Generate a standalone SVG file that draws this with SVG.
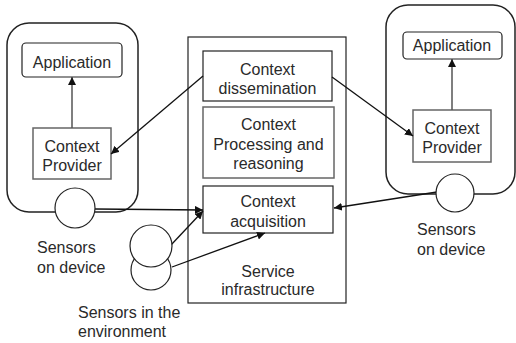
<svg xmlns="http://www.w3.org/2000/svg" width="516" height="343" viewBox="0 0 516 343">
<style>
text{font-family:"Liberation Sans",Arial,sans-serif;font-size:16px;fill:#2a2a2a}
.c{text-anchor:middle}
.dev{fill:none;stroke:#222;stroke-width:1.5}
.box{fill:#fff;stroke:#222;stroke-width:1.2}
.gbox{fill:#fff;stroke:#666;stroke-width:1.5}
.sen{fill:#fff;stroke:#222;stroke-width:1.2}
.ln{stroke:#111;stroke-width:1.3;fill:none;marker-end:url(#ah)}
.gl{stroke:#555;stroke-width:1.5;fill:none;marker-end:url(#ah)}
</style>
<defs>
<marker id="ah" viewBox="0 0 10 10" refX="10" refY="5" markerWidth="8" markerHeight="8" markerUnits="userSpaceOnUse" orient="auto">
<path d="M0,0 L10,5 L0,10 z" fill="#111"/>
</marker>
</defs>
<rect width="516" height="343" fill="#fff"/>
<g id="left-device">
<rect class="dev" x="7" y="23" width="131" height="189" rx="22"/>
</g>
<g id="right-device">
<rect class="dev" x="386" y="5" width="129" height="189" rx="22"/>
</g>
<g id="service-infrastructure">
<rect class="box" x="188" y="37" width="158" height="266"/>
<text class="c" x="268" y="277">Service</text>
<text class="c" x="268" y="295">infrastructure</text>
</g>
<g id="left-application">
<rect class="box" x="22" y="43" width="100" height="34" rx="4"/>
<text class="c" x="72" y="68">Application</text>
</g>
<g id="left-provider">
<rect class="gbox" x="33" y="128" width="78" height="51"/>
<text class="c" x="72" y="152">Context</text>
<text class="c" x="72" y="171">Provider</text>
</g>
<g id="right-application">
<rect class="box" x="403" y="32" width="99" height="27" rx="4"/>
<text class="c" x="452" y="51">Application</text>
</g>
<g id="right-provider">
<rect class="gbox" x="413" y="110" width="78" height="52"/>
<text class="c" x="452" y="134">Context</text>
<text class="c" x="452" y="153">Provider</text>
</g>
<g id="dissemination">
<rect class="box" x="203" y="51" width="129" height="50"/>
<text class="c" x="267.5" y="75">Context</text>
<text class="c" x="267.5" y="94">dissemination</text>
</g>
<g id="processing">
<rect class="gbox" x="203" y="107" width="131" height="71"/>
<text class="c" x="268.5" y="130">Context</text>
<text class="c" x="268.5" y="150">Processing and</text>
<text class="c" x="268.5" y="169">reasoning</text>
</g>
<g id="acquisition">
<rect class="box" x="203" y="186" width="130" height="47"/>
<text class="c" x="268" y="207">Context</text>
<text class="c" x="268" y="227">acquisition</text>
</g>
<g id="connectors">
<line class="gl" x1="72" y1="128" x2="72" y2="77"/>
<line class="gl" x1="452" y1="110" x2="452" y2="59"/>
<line class="ln" x1="203" y1="76" x2="111" y2="154"/>
<line class="ln" x1="332" y1="77" x2="413" y2="136"/>
<line class="ln" x1="95" y1="209" x2="203" y2="210"/>
<line class="ln" x1="171" y1="245" x2="203" y2="211"/>
<line class="ln" x1="172" y1="267" x2="265" y2="233"/>
<line class="ln" x1="437" y1="192" x2="334" y2="208"/>
</g>
<g id="left-sensor">
<circle class="sen" cx="75" cy="208" r="20"/>
<text x="37" y="253">Sensors</text>
<text x="37" y="273">on device</text>
</g>
<g id="right-sensor">
<circle class="sen" cx="455" cy="193" r="19"/>
<text x="417" y="235">Sensors</text>
<text x="417" y="255">on device</text>
</g>
<g id="environment-sensors">
<circle class="sen" cx="151" cy="270" r="20"/>
<circle class="sen" cx="151" cy="246" r="21"/>
<text x="78" y="318">Sensors in the</text>
<text x="78" y="337">environment</text>
</g>
</svg>
